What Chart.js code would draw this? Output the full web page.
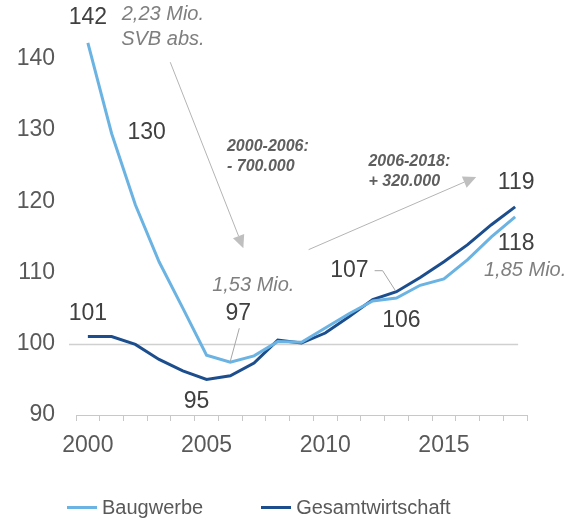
<!DOCTYPE html>
<html>
<head>
  <meta charset="utf-8">
  <title>Beschäftigung Baugewerbe</title>
  <script src="https://cdn.jsdelivr.net/npm/chart.js"></script>
  <style>
    body { margin: 0; background: #fff; }
    #wrap { position: relative; width: 569px; height: 522px; }
    .legend { position: absolute; top: 496px; left: 67px; display: flex; align-items: center;
      font: 20px "Liberation Sans", Arial, sans-serif; color: #595959; }
    .legend .item { display: flex; align-items: center; margin-right: 58px; }
    .legend .line { display: inline-block; width: 30px; height: 3px; margin-right: 5px; }
  </style>
</head>
<body>
<div id="wrap">
  <canvas id="chart" width="569" height="522"></canvas>
  <div class="legend">
    <div class="item"><span class="line" style="background:#6BB3E3"></span>Baugwerbe</div>
    <div class="item"><span class="line" style="background:#1C4E8E"></span>Gesamtwirtschaft</div>
  </div>
</div>

<script>
  const years = ["2000","2001","2002","2003","2004","2005","2006","2007","2008","2009",
                 "2010","2011","2012","2013","2014","2015","2016","2017","2018"];
  const baugewerbe = [142.2, 129.5, 119.5, 111.5, 105.0, 98.4, 97.4, 98.3, 100.3, 100.2,
                      102.2, 104.2, 106.0, 106.4, 108.2, 109.1, 111.8, 115.0, 117.8];
  const gesamtwirtschaft = [101.0, 101.0, 99.9, 97.8, 96.2, 95.0, 95.5, 97.3, 100.5, 100.1,
                            101.5, 103.8, 106.2, 107.3, 109.3, 111.5, 113.9, 116.7, 119.2];
  const yTicks = [90, 100, 110, 120, 130, 140];
  const xLabelEvery = 5;

  const FONT = '"Liberation Sans", Arial, sans-serif';

  // value labels next to single points (dataset, index, offset in px)
  const pointLabels = [
    { ds: 0, i: 0, dx: 0, dy: -25 },
    { ds: 0, i: 1, dx: 35, dy: -1 },
    { ds: 0, i: 6, dx: 8, dy: -49, leader: "straight" },
    { ds: 0, i: 13, dx: 5, dy: 23 },
    { ds: 0, i: 18, dx: 1, dy: 27 },
    { ds: 1, i: 0, dx: 0, dy: -23 },
    { ds: 1, i: 5, dx: -10, dy: 22 },
    { ds: 1, i: 13, dx: -47, dy: -21, leader: "elbow" },
    { ds: 1, i: 18, dx: 1, dy: -24 }
  ];

  // grey italic notes, anchored to a point
  const notes = [
    { text: "2,23 Mio.", ds: 0, i: 0, dx: 75, dy: -29 },
    { text: "SVB abs.", ds: 0, i: 0, dx: 75, dy: -4 },
    { text: "1,53 Mio.", ds: 0, i: 6, dx: 23, dy: -77 },
    { text: "1,85 Mio.", ds: 0, i: 18, dx: 10, dy: 54 }
  ];

  // bold notes in data coordinates (category index, value)
  const boldNotes = [
    { lines: ["2000-2006:", "- 700.000"], x: 5.86, y: 127.7 },
    { lines: ["2006-2018:", "+ 320.000"], x: 11.82, y: 125.5 }
  ];

  const arrows = [
    { from: [3.47, 139.5], to: [6.55, 113.4] },
    { from: [9.3, 113.2], to: [16.36, 123.4] }
  ];

  function drawArrow(ctx, x1, y1, x2, y2) {
    const ang = Math.atan2(y2 - y1, x2 - x1);
    const len = 13, half = 6;
    const bx = x2 - Math.cos(ang) * len, by = y2 - Math.sin(ang) * len;
    ctx.strokeStyle = "#b4b4b4";
    ctx.lineWidth = 1;
    ctx.beginPath();
    ctx.moveTo(x1, y1);
    ctx.lineTo(bx, by);
    ctx.stroke();
    ctx.fillStyle = "#bfbfbf";
    ctx.beginPath();
    ctx.moveTo(x2, y2);
    ctx.lineTo(bx + Math.sin(ang) * half, by - Math.cos(ang) * half);
    ctx.lineTo(bx - Math.sin(ang) * half, by + Math.cos(ang) * half);
    ctx.closePath();
    ctx.fill();
  }

  const annotations = {
    id: "annotations",
    beforeDatasetsDraw(chart) {
      const { ctx, scales: { x, y } } = chart;
      const y100 = Math.round(y.getPixelForValue(100)) + 0.5;
      ctx.save();
      ctx.strokeStyle = "#d0d0d0";
      ctx.lineWidth = 1.5;
      ctx.beginPath();
      ctx.moveTo(chart.chartArea.left - 7, y100);
      ctx.lineTo(x.getPixelForValue(years.length - 1) + 3, y100);
      ctx.stroke();
      ctx.restore();
    },
    afterDatasetsDraw(chart) {
      const { ctx, scales: { x, y } } = chart;
      ctx.save();
      ctx.textAlign = "center";
      ctx.textBaseline = "middle";

      pointLabels.forEach(l => {
        const el = chart.getDatasetMeta(l.ds).data[l.i];
        const v = chart.data.datasets[l.ds].data[l.i];
        const cx = el.x + l.dx, cy = el.y + l.dy;
        ctx.font = "23px " + FONT;
        ctx.fillStyle = "#404040";
        const txt = String(Math.round(v));
        ctx.fillText(txt, cx, cy);
        ctx.strokeStyle = "#a6a6a6";
        ctx.lineWidth = 1;
        if (l.leader === "straight") {
          ctx.beginPath();
          ctx.moveTo(cx + 1, cy + 15);
          ctx.lineTo(el.x, el.y - 1);
          ctx.stroke();
        } else if (l.leader === "elbow") {
          const w = ctx.measureText(txt).width;
          ctx.beginPath();
          ctx.moveTo(cx + w / 2 + 6, cy);
          ctx.lineTo(cx + w / 2 + 14, cy);
          ctx.lineTo(el.x - 1, el.y - 1);
          ctx.stroke();
        }
      });

      ctx.font = "italic 20px " + FONT;
      ctx.fillStyle = "#7f7f7f";
      notes.forEach(n => {
        const el = chart.getDatasetMeta(n.ds).data[n.i];
        ctx.fillText(n.text, el.x + n.dx, el.y + n.dy);
      });

      ctx.font = "italic bold 16px " + FONT;
      ctx.fillStyle = "#5f5f5f";
      ctx.textAlign = "left";
      boldNotes.forEach(b => {
        const px = x.getPixelForValue(b.x), py = y.getPixelForValue(b.y);
        b.lines.forEach((t, k) => ctx.fillText(t, px, py + k * 20));
      });

      arrows.forEach(a => {
        drawArrow(ctx, x.getPixelForValue(a.from[0]), y.getPixelForValue(a.from[1]),
                       x.getPixelForValue(a.to[0]), y.getPixelForValue(a.to[1]));
      });
      ctx.restore();
    }
  };

  new Chart(document.getElementById("chart"), {
    type: "line",
    data: {
      labels: years,
      datasets: [
        { label: "Baugwerbe", data: baugewerbe, borderColor: "#6BB3E3", borderWidth: 3,
          pointRadius: 0, tension: 0, fill: false },
        { label: "Gesamtwirtschaft", data: gesamtwirtschaft, borderColor: "#1C4E8E", borderWidth: 3,
          pointRadius: 0, tension: 0, fill: false }
      ]
    },
    options: {
      responsive: false,
      animation: false,
      devicePixelRatio: 1,
      layout: { padding: { top: 23, right: 42, bottom: 47, left: 0 } },
      plugins: { legend: { display: false }, tooltip: { enabled: false } },
      scales: {
        x: {
          offset: true,
          grid: { display: true, offset: true, drawOnChartArea: false, drawTicks: true,
                  tickLength: 6, color: "#c8c8c8" },
          border: { display: true, color: "#c8c8c8", width: 1 },
          ticks: {
            autoSkip: false, maxRotation: 0, padding: 11, color: "#595959",
            font: { family: FONT, size: 23 },
            callback: (v, i) => (i % xLabelEvery === 0 ? years[i] : "")
          },
          afterFit: s => { s.height = 60; s.paddingLeft = 0; s.paddingRight = 0; }
        },
        y: {
          min: 90, max: 145,
          grid: { display: false, drawTicks: false },
          border: { display: false },
          ticks: { padding: 21, color: "#595959", font: { family: FONT, size: 23 } },
          afterBuildTicks: s => { s.ticks = yTicks.map(v => ({ value: v })); },
          afterFit: s => { s.width = 76; s.paddingTop = 0; s.paddingBottom = 0; }
        }
      }
    },
    plugins: [annotations]
  });
</script>
</body>
</html>
